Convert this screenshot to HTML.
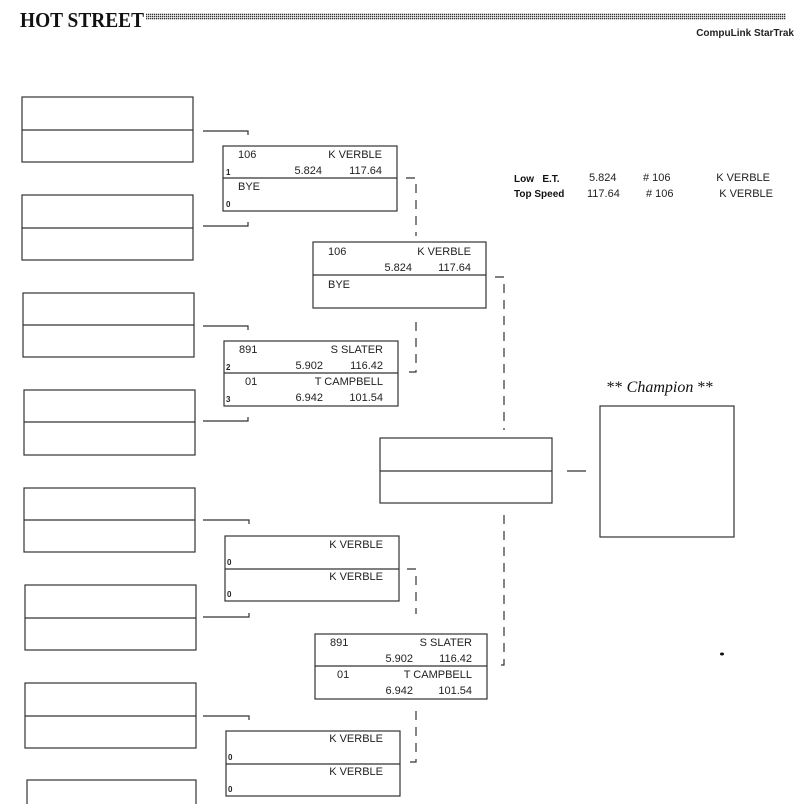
<!DOCTYPE html>
<html><head><meta charset="utf-8"><style>
html,body{margin:0;padding:0;background:#fff;width:800px;height:804px;overflow:hidden}
svg{display:block}
.t{font-family:"Liberation Sans",sans-serif;font-size:11px;fill:#222}
.s{font-family:"Liberation Sans",sans-serif;font-size:8px;font-weight:bold;fill:#222}
</style></head><body>
<svg width="800" height="804" viewBox="0 0 800 804" xmlns="http://www.w3.org/2000/svg">
<defs>
<pattern id="dots" width="2" height="2" patternUnits="userSpaceOnUse"><rect width="1.3" height="1.3" fill="#333"/></pattern>
</defs>
<text x="20" y="27" textLength="124" lengthAdjust="spacingAndGlyphs" font-family="Liberation Serif,serif" font-weight="bold" font-size="21" fill="#111">HOT STREET</text>
<rect x="146" y="13" width="640" height="7" fill="url(#dots)"/>
<text x="794" y="36" text-anchor="end" font-family="Liberation Sans,sans-serif" font-weight="bold" font-size="10" fill="#222">CompuLink StarTrak</text>

<g fill="none" stroke="#333" stroke-width="1.2">
<rect x="22" y="97" width="171" height="65"/><line x1="22" y1="130" x2="193" y2="130"/>
<rect x="22" y="195" width="171" height="65"/><line x1="22" y1="228" x2="193" y2="228"/>
<rect x="23" y="293" width="171" height="64"/><line x1="23" y1="325" x2="194" y2="325"/>
<rect x="24" y="390" width="171" height="65"/><line x1="24" y1="422" x2="195" y2="422"/>
<rect x="24" y="488" width="171" height="64"/><line x1="24" y1="520" x2="195" y2="520"/>
<rect x="25" y="585" width="171" height="65"/><line x1="25" y1="618" x2="196" y2="618"/>
<rect x="25" y="683" width="171" height="65"/><line x1="25" y1="716" x2="196" y2="716"/>
<rect x="27" y="780" width="169" height="40"/><line x1="27" y1="812" x2="196" y2="812"/>
<rect x="223" y="146" width="174" height="65"/><line x1="223" y1="178" x2="397" y2="178"/>
<rect x="224" y="341" width="174" height="65"/><line x1="224" y1="373" x2="398" y2="373"/>
<rect x="225" y="536" width="174" height="65"/><line x1="225" y1="569" x2="399" y2="569"/>
<rect x="226" y="731" width="174" height="65"/><line x1="226" y1="764" x2="400" y2="764"/>
<rect x="313" y="242" width="173" height="66"/><line x1="313" y1="275" x2="486" y2="275"/>
<rect x="315" y="634" width="172" height="65"/><line x1="315" y1="666" x2="487" y2="666"/>
<rect x="380" y="438" width="172" height="65"/><line x1="380" y1="471" x2="552" y2="471"/>
<rect x="600" y="406" width="134" height="131"/>
<line x1="567" y1="471" x2="586" y2="471"/>
<polyline points="203,131 248,131 248,135"/>
<polyline points="203,226 248,226 248,222"/>
<polyline points="203,326 248,326 248,330"/>
<polyline points="203,421 248,421 248,417"/>
<polyline points="203,520 249,520 249,524"/>
<polyline points="203,617 249,617 249,613"/>
<polyline points="203,716 249,716 249,720"/>
</g>
<g fill="none" stroke="#333" stroke-width="1.2" stroke-dasharray="9,7">
<polyline points="406,178 416,178 416,236"/>
<polyline points="416,322 416,372 406,372"/>
<polyline points="495,277 504,277 504,430"/>
<polyline points="504,515 504,665 495,665"/>
<polyline points="407,569 416,569 416,614"/>
<polyline points="416,711 416,762 407,762"/>
</g>

<text class="t" x="238" y="158">106</text><text class="t" x="382" y="158" text-anchor="end">K VERBLE</text>
<text class="s" x="226" y="175">1</text><text class="t" x="322" y="174" text-anchor="end">5.824</text><text class="t" x="382" y="174" text-anchor="end">117.64</text>
<text class="t" x="238" y="190">BYE</text><text class="s" x="226" y="207">0</text>
<text class="t" x="328" y="255">106</text><text class="t" x="471" y="255" text-anchor="end">K VERBLE</text>
<text class="t" x="412" y="271" text-anchor="end">5.824</text><text class="t" x="471" y="271" text-anchor="end">117.64</text>
<text class="t" x="328" y="288">BYE</text>
<text class="t" x="239" y="353">891</text><text class="t" x="383" y="353" text-anchor="end">S SLATER</text>
<text class="s" x="226" y="370">2</text><text class="t" x="323" y="369" text-anchor="end">5.902</text><text class="t" x="383" y="369" text-anchor="end">116.42</text>
<text class="t" x="245" y="385">01</text><text class="t" x="383" y="385" text-anchor="end">T CAMPBELL</text>
<text class="s" x="226" y="402">3</text><text class="t" x="323" y="401" text-anchor="end">6.942</text><text class="t" x="383" y="401" text-anchor="end">101.54</text>
<text class="t" x="383" y="548" text-anchor="end">K VERBLE</text><text class="s" x="227" y="565">0</text>
<text class="t" x="383" y="580" text-anchor="end">K VERBLE</text><text class="s" x="227" y="597">0</text>
<text class="t" x="330" y="646">891</text><text class="t" x="472" y="646" text-anchor="end">S SLATER</text>
<text class="t" x="413" y="662" text-anchor="end">5.902</text><text class="t" x="472" y="662" text-anchor="end">116.42</text>
<text class="t" x="337" y="678">01</text><text class="t" x="472" y="678" text-anchor="end">T CAMPBELL</text>
<text class="t" x="413" y="694" text-anchor="end">6.942</text><text class="t" x="472" y="694" text-anchor="end">101.54</text>
<text class="t" x="383" y="742" text-anchor="end">K VERBLE</text><text class="s" x="228" y="760">0</text>
<text class="t" x="383" y="775" text-anchor="end">K VERBLE</text><text class="s" x="228" y="792">0</text>

<text x="514" y="182" font-family="Liberation Sans,sans-serif" font-weight="bold" font-size="10" fill="#111">Low&#160;&#160; E.T.</text>
<text x="514" y="197" font-family="Liberation Sans,sans-serif" font-weight="bold" font-size="10" fill="#111">Top Speed</text>
<text class="t" x="589" y="181">5.824</text><text class="t" x="643" y="181"># 106</text><text class="t" x="770" y="181" text-anchor="end">K VERBLE</text>
<text class="t" x="587" y="197">117.64</text><text class="t" x="646" y="197"># 106</text><text class="t" x="773" y="197" text-anchor="end">K VERBLE</text>

<text x="660" y="392" text-anchor="middle" font-family="Liberation Serif,serif" font-size="16" fill="#111">** <tspan font-style="italic">Champion</tspan> **</text>
<ellipse cx="722" cy="654" rx="2" ry="1.5" fill="#111"/>
</svg>
</body></html>
